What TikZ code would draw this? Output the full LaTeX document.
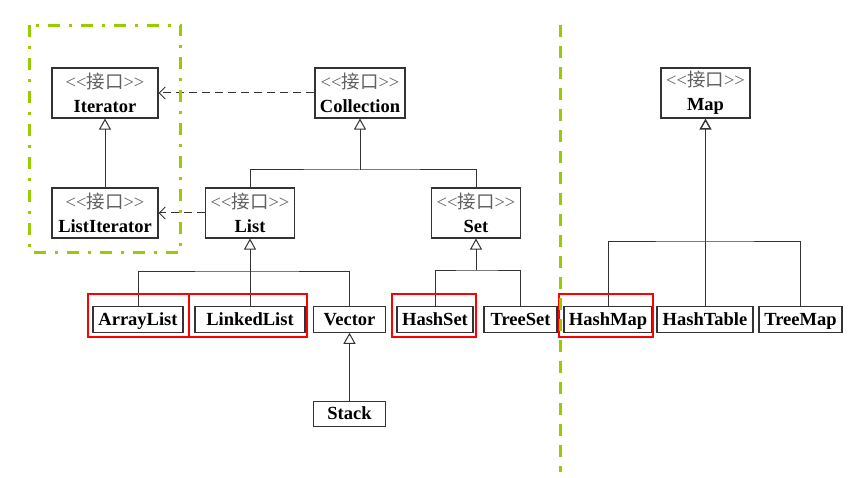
\documentclass[tikz,border=0pt]{standalone}
\usepackage{fontspec}
\setmainfont{Liberation Serif}
\newfontfamily\cjk{Noto Sans CJK SC}
\usetikzlibrary{arrows.meta}
\definecolor{boxline}{HTML}{333333}
\definecolor{stereo}{HTML}{606060}
\definecolor{limegreen}{HTML}{99CC00}
\newcommand{\ifacetext}[1]{{\color{stereo}<{}<{\cjk 接口}>{}>}\\\textbf{#1}}
\begin{document}
\begin{tikzpicture}[x=1pt,y=-1pt,
  font=\fontsize{18.5}{24}\selectfont,
  iface/.style={draw=boxline,line width=1.1pt,minimum height=50pt,inner sep=0pt,align=center},
  cls/.style={draw=boxline,line width=1.1pt,minimum height=25.5pt,inner sep=0pt,
    text height=14pt,text depth=3pt,font=\fontsize{18.5}{20}\selectfont\bfseries},
  conn/.style={draw=boxline,line width=1pt},
  inherit/.style={conn,-{Triangle[open,length=11pt,width=12pt]}},
  dep/.style={conn,dash pattern=on 8pt off 5pt,-{Straight Barb[length=6pt,width=12pt]}},
  mark box/.style={draw=red,line width=2pt},
  group box/.style={draw=limegreen,line width=3pt,dash pattern=on 12pt off 9pt on 3pt off 9pt},
  divider/.style={draw=limegreen,line width=3pt,dash pattern=on 12pt off 9pt}]
\useasboundingbox (0,0) rectangle (856,478);

% interfaces
\node[iface,minimum width=106pt] (iterator) at (105,93) {\ifacetext{Iterator}};
\node[iface,minimum width=90pt] (collection) at (360,93) {\ifacetext{Collection}};
\node[iface,minimum width=89pt] (map) at (705.5,93) {\ifacetext{Map}};
\node[iface,minimum width=106pt] (listiterator) at (105,213) {\ifacetext{ListIterator}};
\node[iface,minimum width=89pt] (list) at (250,213) {\ifacetext{List}};
\node[iface,minimum width=89pt] (set) at (476,213) {\ifacetext{Set}};

% implementing classes
\node[cls,minimum width=90pt] (arraylist) at (138,319.5) {ArrayList};
\node[cls,minimum width=110pt] (linkedlist) at (250,319.5) {LinkedList};
\node[cls,minimum width=72pt] (vector) at (349.5,319.5) {Vector};
\node[cls,minimum width=72pt] (stack) at (349.5,414) {Stack};
\node[cls,minimum width=76pt] (hashset) at (435,319.5) {HashSet};
\node[cls,minimum width=73pt] (treeset) at (520.5,319.5) {TreeSet};
\node[cls,minimum width=88pt] (hashmap) at (608,319.5) {HashMap};
\node[cls,minimum width=96pt] (hashtable) at (705,319.5) {HashTable};
\node[cls,minimum width=83pt] (treemap) at (800.5,319.5) {TreeMap};

% bus points of the inheritance trees
\coordinate (cbus) at (360,170);
\coordinate (lbus) at (250,271);
\coordinate (sbus) at (476,270);
\coordinate (mbus) at (705.5,242);

% Collection tree
\draw[conn] (list.north) |- (cbus) -| (set.north);
\draw[inherit] (cbus) -- (collection.south);

% List tree
\draw[conn] (arraylist.north) |- (lbus) -| (vector.north);
\draw[conn] (linkedlist.north) -- (lbus);
\draw[inherit] (lbus) -- (list.south);
\draw[inherit] (stack.north) -- (vector.south);

% Set tree
\draw[conn] (hashset.north) |- (sbus) -| (treeset.north);
\draw[inherit] (sbus) -- (set.south);

% Map tree
\draw[conn] (hashmap.north) |- (mbus) -| (treemap.north);
\draw[conn] (hashtable.north) -- (hashtable.north |- mbus);
\draw[inherit,line width=1.4pt] (mbus) -- (map.south);

% Iterator side
\draw[inherit] (listiterator.north) -- (iterator.south);
\draw[dep] (collection.west) -- (iterator.east);
\draw[dep] (list.west) -- (listiterator.east);

% highlighted classes
\node[mark box,inner sep=0pt,minimum width=101pt,minimum height=43pt] (markarray) at (138.5,315.5) {};
\node[mark box,inner sep=0pt,minimum width=118pt,minimum height=43pt] (marklinked) at (248,315.5) {};
\node[mark box,inner sep=0pt,minimum width=84pt,minimum height=43pt] (markhashset) at (434,315.5) {};
\node[mark box,inner sep=0pt,minimum width=94pt,minimum height=43pt] (markhashmap) at (606.3,315.5) {};

% grouping frame and divider
\draw[group box] (29.5,25.5) rectangle (180.5,252.5);
\draw[divider] (560.3,25) -- (560.3,472);
\end{tikzpicture}
\end{document}
